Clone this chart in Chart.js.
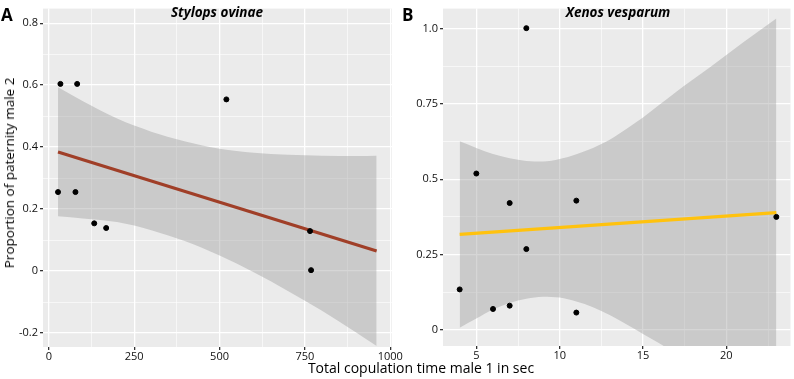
<!DOCTYPE html>
<html>
<head>
<meta charset="utf-8">
<script src="https://cdn.jsdelivr.net/npm/chart.js@4.4.1/dist/chart.umd.min.js"></script>
<style>
  body { margin: 0; background: #fff; font-family: "Open Sans", sans-serif; }
  #wrap { position: relative; width: 794px; height: 379px; overflow: hidden; }
  canvas { position: absolute; top: 0; }
  .lbl { position: absolute; color: #000; white-space: nowrap; }
</style>
</head>
<body>
<div id="wrap">
  <canvas id="chartA" style="left:0px" width="410" height="379"></canvas>
  <canvas id="chartB" style="left:400px" width="394" height="379"></canvas>
  <div class="lbl" style="left:1px;top:3px;font-size:17px;font-weight:bold">A</div>
  <div class="lbl" style="left:402px;top:3px;font-size:17px;font-weight:bold">B</div>
  <div class="lbl" style="left:217px;top:12px;transform:translate(-50%,-50%);font-size:13.5px;font-weight:bold;font-style:italic">Stylops ovinae</div>
  <div class="lbl" style="left:618px;top:12px;transform:translate(-50%,-50%);font-size:13.5px;font-weight:bold;font-style:italic">Xenos vesparum</div>
  <div class="lbl" style="left:421px;top:367px;transform:translate(-50%,-50%);font-size:14px">Total copulation time male 1 in sec</div>
  <div class="lbl" style="left:9px;top:173px;transform:translate(-50%,-50%) rotate(-90deg);font-size:13.5px">Proportion of paternity male 2</div>
</div>
<script>
// Panel A: Stylops ovinae
var xA = [27, 34, 78, 83, 133, 168, 520, 765, 768];
var yA = [0.255, 0.604, 0.255, 0.604, 0.154, 0.139, 0.554, 0.129, 0.003];
var fitXA = [27, 960];
var fitYA = [0.384, 0.065];
var bandXA = [27, 100, 200, 300, 400, 500, 600, 700, 800, 900, 960];
var bandHiA = [0.593, 0.548, 0.492, 0.450, 0.418, 0.395, 0.382, 0.375, 0.372, 0.371, 0.372];
var bandLoA = [0.177, 0.170, 0.158, 0.132, 0.096, 0.050, -0.004, -0.064, -0.128, -0.198, -0.242];
var xTicksA = [0, 125, 250, 375, 500, 625, 750, 875, 1000];
var xLabelsA = ['0', '', '250', '', '500', '', '750', '', '1000'];
var yTicksA = [-0.2, -0.1, 0, 0.1, 0.2, 0.3, 0.4, 0.5, 0.6, 0.7, 0.8];
var yLabelsA = ['-0.2', '', '0', '', '0.2', '', '0.4', '', '0.6', '', '0.8'];

// Panel B: Xenos vesparum
var xB = [4, 5, 6, 7, 7, 8, 8, 11, 11, 23];
var yB = [0.134, 0.519, 0.069, 0.421, 0.080, 1.002, 0.268, 0.429, 0.057, 0.375];
var fitXB = [4, 23];
var fitYB = [0.317, 0.389];
var bandXB = [4, 5, 6, 7, 8, 9, 10, 11, 12, 13, 14, 15, 16, 17, 19, 21, 23];
var bandHiB = [0.626, 0.604, 0.584, 0.570, 0.561, 0.559, 0.567, 0.583, 0.604, 0.631, 0.667, 0.705, 0.748, 0.791, 0.871, 0.954, 1.034];
var bandLoB = [0.007, 0.037, 0.067, 0.089, 0.103, 0.110, 0.107, 0.094, 0.075, 0.049, 0.018, -0.014, -0.046, -0.080, -0.160, -0.210, -0.256];
var xTicksB = [2.5, 5, 7.5, 10, 12.5, 15, 17.5, 20, 22.5];
var xLabelsB = ['', '5', '', '10', '', '15', '', '20', ''];
var yTicksB = [0, 0.125, 0.25, 0.375, 0.5, 0.625, 0.75, 0.875, 1.0];
var yLabelsB = ['0', '', '0.25', '', '0.5', '', '0.75', '', '1.0'];

function pairs(xs, ys) {
    return xs.map(function(x, i) { return { x: x, y: ys[i] }; });
}

var panelBg = {
    id: 'panelBg',
    beforeDraw: function(chart) {
        var a = chart.chartArea;
        var ctx = chart.ctx;
        ctx.save();
        ctx.fillStyle = '#EBEBEB';
        ctx.fillRect(a.left, a.top, a.right - a.left, a.bottom - a.top);
        ctx.restore();
    }
};

function makePanel(id, p) {
    var tickFont = { family: 'Open Sans', size: 11 };
    return new Chart(document.getElementById(id), {
        type: 'scatter',
        data: {
            datasets: [{
                data: pairs(p.x, p.y),
                backgroundColor: '#000',
                borderColor: '#000',
                pointRadius: 2.5,
                pointHoverRadius: 2.5
            }, {
                data: pairs(p.fitX, p.fitY),
                showLine: true,
                borderColor: p.lineColor,
                borderWidth: 3.2,
                pointRadius: 0
            }, {
                data: pairs(p.bandX, p.bandHi),
                showLine: true,
                borderWidth: 0,
                borderColor: 'rgba(0,0,0,0)',
                pointRadius: 0,
                cubicInterpolationMode: 'monotone',
                fill: '+1',
                backgroundColor: 'rgba(153,153,153,0.4)'
            }, {
                data: pairs(p.bandX, p.bandLo),
                showLine: true,
                borderWidth: 0,
                borderColor: 'rgba(0,0,0,0)',
                pointRadius: 0,
                cubicInterpolationMode: 'monotone'
            }]
        },
        options: {
            responsive: false,
            animation: false,
            layout: { padding: { left: 0, right: p.padRight, top: 0, bottom: 0 } },
            plugins: {
                legend: { display: false },
                tooltip: { enabled: false }
            },
            scales: {
                x: {
                    min: p.xMin,
                    max: p.xMax,
                    afterBuildTicks: function(s) { s.ticks = p.xTicks.map(function(v) { return { value: v }; }); },
                    afterFit: function(s) { s.height = p.xAxisH; },
                    border: { display: false },
                    grid: {
                        color: '#fff',
                        lineWidth: function(c) { return p.xLabels[c.index] === '' ? 0.6 : 1.3; },
                        tickColor: function(c) { return p.xLabels[c.index] === '' ? 'rgba(0,0,0,0)' : '#333'; },
                        tickLength: 3
                    },
                    ticks: {
                        color: '#111',
                        font: tickFont,
                        padding: 0,
                        maxRotation: 0,
                        autoSkip: false,
                        callback: function(v, i) { return p.xLabels[i]; }
                    }
                },
                y: {
                    min: p.yMin,
                    max: p.yMax,
                    afterBuildTicks: function(s) { s.ticks = p.yTicks.map(function(v) { return { value: v }; }); },
                    afterFit: function(s) { s.width = p.yAxisW; },
                    border: { display: false },
                    grid: {
                        color: '#fff',
                        lineWidth: function(c) { return p.yLabels[c.index] === '' ? 0.6 : 1.3; },
                        tickColor: function(c) { return p.yLabels[c.index] === '' ? 'rgba(0,0,0,0)' : '#333'; },
                        tickLength: 3
                    },
                    ticks: {
                        color: '#111',
                        font: tickFont,
                        padding: 2,
                        autoSkip: false,
                        callback: function(v, i) { return p.yLabels[i]; }
                    }
                }
            }
        },
        plugins: [panelBg]
    });
}

makePanel('chartA', {
    x: xA, y: yA, fitX: fitXA, fitY: fitYA,
    bandX: bandXA, bandHi: bandHiA, bandLo: bandLoA,
    xTicks: xTicksA, xLabels: xLabelsA, yTicks: yTicksA, yLabels: yLabelsA,
    xMin: -17, xMax: 1005, yMin: -0.245, yMax: 0.847,
    lineColor: '#A03F28', padRight: 18, xAxisH: 32, yAxisW: 43
});

makePanel('chartB', {
    x: xB, y: yB, fitX: fitXB, fitY: fitYB,
    bandX: bandXB, bandHi: bandHiB, bandLo: bandLoB,
    xTicks: xTicksB, xLabels: xLabelsB, yTicks: yTicksB, yLabels: yLabelsB,
    xMin: 3.0, xMax: 23.85, yMin: -0.054, yMax: 1.067,
    lineColor: '#FFC20E', padRight: 2, xAxisH: 33, yAxisW: 43
});
</script>
</body>
</html>
